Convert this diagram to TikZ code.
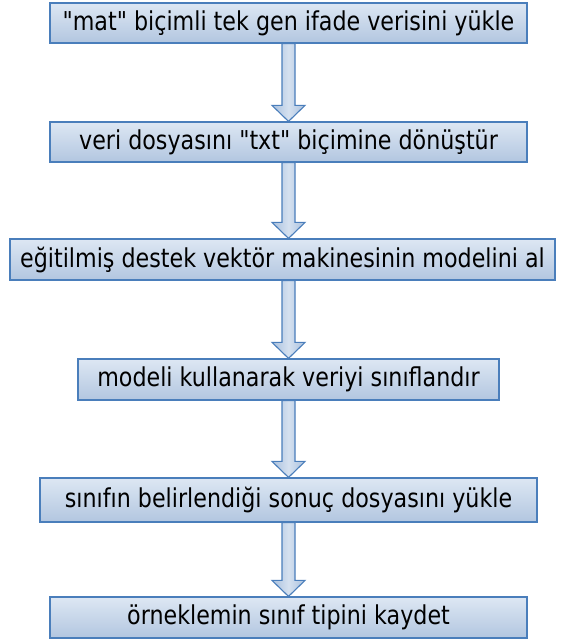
\documentclass[tikz,border=0pt]{standalone}
\usepackage{fontspec}
\setmainfont{DejaVu Sans}[FakeStretch=0.854, Ligatures=TeXOff]
\usepackage{tikz}
\usetikzlibrary{calc}
\definecolor{flowborder}{HTML}{4A7EBB}
\definecolor{flowtop}{HTML}{DDE7F3}
\definecolor{flowbottom}{HTML}{B2C6E0}
\definecolor{arrowedge}{HTML}{A9C0DD}
\definecolor{arrowmid}{HTML}{D5E1F0}

\begin{document}
\begin{tikzpicture}[x=1pt, y=1pt,
    stepbox/.style={draw=flowborder, line width=1.2pt, top color=flowtop, bottom color=flowbottom, minimum height=40pt, inner sep=0pt, font=\fontsize{26}{29}\selectfont},
    fatarrow/.style={draw=flowborder, line width=1.1pt, left color=arrowedge, right color=arrowedge, middle color=arrowmid, line join=miter}
]
    \useasboundingbox[fill=white] (0,0) rectangle (560,-644);

    % Steps
    \node[stepbox, minimum width=477pt] (load) at (288.5,-23) {"mat" biçimli tek gen ifade verisini yükle};
    \node[stepbox, minimum width=477pt] (convert) at (288.5,-142) {veri dosyasını "txt" biçimine dönüştür};
    \node[stepbox, minimum width=545pt, minimum height=41pt] (model) at (282.5,-259.5) {eğitilmiş destek vektör makinesinin modelini al};
    \node[stepbox, minimum width=421pt, minimum height=41pt] (classify) at (288.5,-379.5) {modeli kullanarak veriyi sınıflandır};
    \node[stepbox, minimum width=497pt, minimum height=44pt] (result) at (288.5,-500) {sınıfın belirlendiği sonuç dosyasını yükle};
    \node[stepbox, minimum width=477pt, minimum height=41pt] (save) at (288.5,-617.5) {örneklemin sınıf tipini kaydet};

    % Block arrows
    \foreach \from/\to in {load/convert, convert/model, model/classify, classify/result, result/save}
        \path[fatarrow] let \p0=(load.south), \p1=(\from.south), \p2=(\to.north) in
            (\x0-6.5,\y1) -- (\x0+6.5,\y1) -- (\x0+6.5,\y2+16) -- (\x0+16.5,\y2+16) -- (\x0,\y2)
            -- (\x0-16.5,\y2+16) -- (\x0-6.5,\y2+16) -- cycle;
\end{tikzpicture}
\end{document}
